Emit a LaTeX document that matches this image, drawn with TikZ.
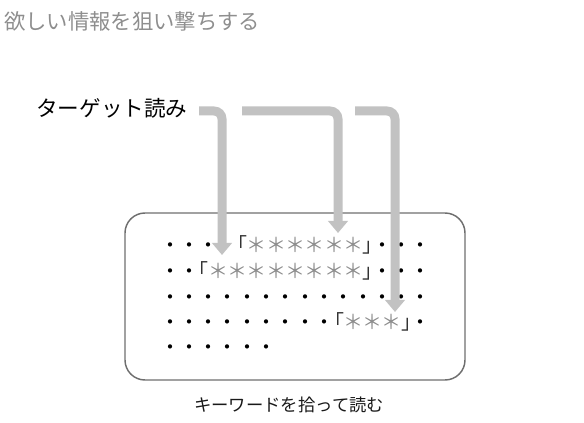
\documentclass[tikz,border=0pt]{standalone}
\usepackage{fontspec}
\setmainfont{Noto Sans CJK JP}
\usetikzlibrary{arrows.meta}
\definecolor{titlegray}{HTML}{8E8E8E}
\definecolor{arrowgray}{HTML}{C2C2C2}
\definecolor{boxgray}{HTML}{6E6E6E}
\definecolor{stargray}{HTML}{8C8C8C}
\definecolor{bracketdark}{HTML}{333333}
\newcommand\Dt{・}
\newcommand\St{\textcolor{stargray}{＊}}
\newcommand\Lb{\textcolor{bracketdark}{「}}
\newcommand\Rb{\textcolor{bracketdark}{」}}
\newcommand\txtrow[3]{%
  \foreach \k/\c [count=\i] in {#3}
    \node[cellstyle] (#1-\i) at ({170+19.3*\k},{#2+7.5}) {\c};}
\tikzset{
  titlestyle/.style={inner sep=0pt, text=titlegray, font=\fontsize{16pt}{16pt}\selectfont},
  labelstyle/.style={inner sep=0pt, text=black, font=\fontsize{16.2pt}{16pt}\selectfont},
  captionstyle/.style={inner sep=0pt, text=black!90, font=\fontsize{13pt}{13pt}\selectfont},
  cellstyle/.style={inner sep=0pt, anchor=base, font=\fontsize{15pt}{15pt}\selectfont},
  passagebox/.style={draw=boxgray, line width=1.1pt, rounded corners=15pt, inner sep=0pt,
    minimum width=255pt, minimum height=125.25pt},
  bar/.style={draw=arrowgray, line width=6.75pt, rounded corners=6pt,
    -{Triangle[length=9pt,width=14.5pt]}}
}
\begin{document}
\begin{tikzpicture}[x=0.75pt,y=-0.75pt]
\useasboundingbox (0,0) rectangle (584,423);
\node[titlestyle, anchor=base west] (title) at (4,30) {欲しい情報を狙い撃ちする};
\node[labelstyle, anchor=base west] (target) at (36,117) {ターゲット読み};
\node[passagebox] (passage) at (295,296.5) {};
\txtrow{r1}{245}{0/\Dt,1/\Dt,2/\Dt,3.5/\Lb,4.5/\St,5.5/\St,6.5/\St,7.5/\St,8.5/\St,9.5/\St,10.5/\Rb,11/\Dt,12/\Dt,13/\Dt}
\txtrow{r2}{271}{0/\Dt,1/\Dt,1.5/\Lb,2.5/\St,3.5/\St,4.5/\St,5.5/\St,6.5/\St,7.5/\St,8.5/\St,9.5/\St,10.5/\Rb,11/\Dt,12/\Dt,13/\Dt}
\txtrow{r3}{297}{0/\Dt,1/\Dt,2/\Dt,3/\Dt,4/\Dt,5/\Dt,6/\Dt,7/\Dt,8/\Dt,9/\Dt,10/\Dt,11/\Dt,12/\Dt,13/\Dt}
\txtrow{r4}{322}{0/\Dt,1/\Dt,2/\Dt,3/\Dt,4/\Dt,5/\Dt,6/\Dt,7/\Dt,8/\Dt,8.5/\Lb,9.5/\St,10.5/\St,11.5/\St,12.5/\Rb,13/\Dt}
\txtrow{r5}{347}{0/\Dt,1/\Dt,2/\Dt,3/\Dt,4/\Dt,5/\Dt}
\node[captionstyle, anchor=base west] (caption) at (194,411.5) {キーワードを拾って読む};
\coordinate (a1s) at (199,111);
\coordinate (a1e) at (222,255);
\coordinate (a2s) at (242,111);
\coordinate (a2e) at (338,233);
\coordinate (a3s) at (355,111);
\coordinate (a3e) at (395,312);
\draw[bar] (a1s) -| (a1e);
\draw[bar] (a2s) -| (a2e);
\draw[bar] (a3s) -| (a3e);
\end{tikzpicture}
\end{document}
